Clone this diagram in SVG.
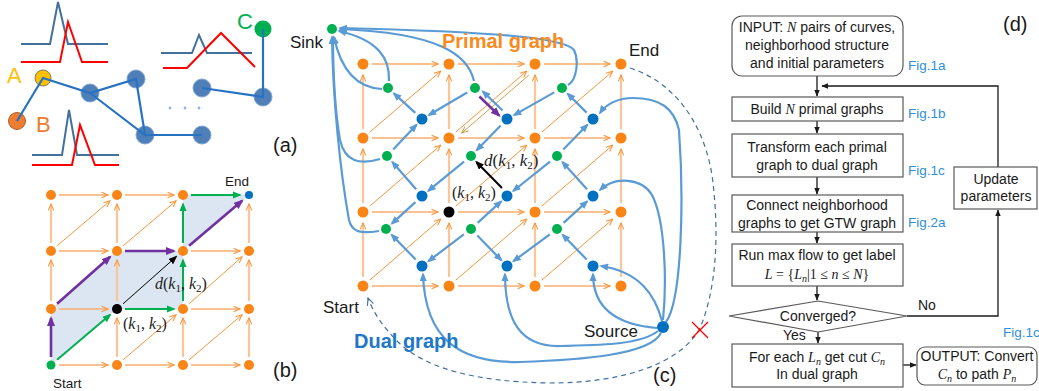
<svg xmlns="http://www.w3.org/2000/svg" width="1039" height="391" viewBox="0 0 1039 391">
<style>
text{font-family:"Liberation Sans",Arial,sans-serif;fill:#1a1a1a}
.m{font-family:"Liberation Serif","Times New Roman",serif}
.i{font-style:italic}
.lab{font-size:20px}
.ph{stroke:#F8AE6E;stroke-width:1.5;fill:none;marker-end:url(#ao)}
.pv{stroke:#FBC596;stroke-width:2.2;fill:none;marker-end:url(#ao)}
.pd{stroke:#F7963C;stroke-width:1;fill:none;marker-end:url(#ao)}
.du{stroke:#5B9BD5;stroke-width:2.2;fill:none;marker-end:url(#ab)}
.on{fill:#FA8517}
.gn{fill:#00B050}
.bn{fill:#0070C0}
.fb{fill:#fff;stroke:#595959;stroke-width:1.2}
.ft{font-size:14px;text-anchor:middle}
.fl{stroke:#1a1a1a;stroke-width:1.3;fill:none;marker-end:url(#af)}
.fig{font-size:13.5px;fill:#2F8FD8}
.ae{stroke:#2872C2;stroke-width:2.2;fill:none}
.an{fill:#4F7FB9;stroke:#7FA5D3;stroke-width:1}
.cb{stroke:#41719C;stroke-width:2;fill:none}
.cr{stroke:#FF0000;stroke-width:2;fill:none}
.gp{stroke:#00B050;stroke-width:2;fill:none;marker-end:url(#ag)}
.pp{stroke:#7030A0;stroke-width:2.6;fill:none;marker-end:url(#ap)}
</style>
<defs>
<marker id="ao" viewBox="0 0 10 10" refX="9" refY="5" markerWidth="8" markerHeight="8" markerUnits="userSpaceOnUse" orient="auto"><path d="M1,1.5 L9,5 L1,8.5" fill="none" stroke="#F7963C" stroke-width="1.3"/></marker>
<marker id="at" viewBox="0 0 10 10" refX="9" refY="5" markerWidth="8" markerHeight="8" markerUnits="userSpaceOnUse" orient="auto"><path d="M1,1.5 L9,5 L1,8.5" fill="none" stroke="#C9A24A" stroke-width="1.3"/></marker>
<marker id="ab" viewBox="0 0 10 8" refX="8" refY="4" markerWidth="9" markerHeight="7.2" markerUnits="userSpaceOnUse" orient="auto"><path d="M0,0 L10,4 L0,8 z" fill="#5B9BD5"/></marker>
<marker id="ag" viewBox="0 0 10 8" refX="8" refY="4" markerWidth="9" markerHeight="7.2" markerUnits="userSpaceOnUse" orient="auto"><path d="M0,0 L10,4 L0,8 z" fill="#00B050"/></marker>
<marker id="ap" viewBox="0 0 10 8" refX="8" refY="4" markerWidth="10" markerHeight="8" markerUnits="userSpaceOnUse" orient="auto"><path d="M0,0 L10,4 L0,8 z" fill="#7030A0"/></marker>
<marker id="ak" viewBox="0 0 10 8" refX="8" refY="4" markerWidth="9" markerHeight="7.2" markerUnits="userSpaceOnUse" orient="auto"><path d="M0,0 L10,4 L0,8 z" fill="#000"/></marker>
<marker id="ad" viewBox="0 0 10 10" refX="9" refY="5" markerWidth="9" markerHeight="9" markerUnits="userSpaceOnUse" orient="auto"><path d="M1,1.5 L9,5 L1,8.5" fill="none" stroke="#41719C" stroke-width="1.2"/></marker>
<marker id="af" viewBox="0 0 10 8" refX="9" refY="4" markerWidth="7" markerHeight="5.6" markerUnits="userSpaceOnUse" orient="auto"><path d="M0,0 L10,4 L0,8 z" fill="#1a1a1a"/></marker>
</defs>
<rect width="1039" height="391" fill="#fff"/>

<!-- ============ Panel (a) ============ -->
<g id="a-curves">
<path class="cb" d="M21,44 L50,44 L58,2 L68,44 L108,44"/>
<path class="cr" d="M21,62 L60,62 L68,22 L82,62 L108,62"/>
<path class="cb" d="M161,53 L192,53 L199,35 L207,53 L252,53"/>
<path class="cr" d="M163,68 L187,68 L221,33 L255,67"/>
<path class="cb" d="M32,155 L62,155 L69,110 L77,155 L119,155"/>
<path class="cr" d="M32,165 L72,165 L80,125 L95,165 L119,165"/>
</g>
<g id="a-nodeA"><circle cx="43" cy="78" r="8" fill="#FFC000" stroke="#7F7F60" stroke-width="1"/><text x="7" y="83" font-size="22" style="fill:#FFC000">A</text></g>
<g id="a-nodeB"><circle cx="17" cy="121" r="8.5" fill="#ED7D31" stroke="#B0602A" stroke-width="1"/><text x="36" y="132" font-size="22" style="fill:#ED7D31">B</text></g>
<g id="a-nodeC"><circle cx="263" cy="29" r="8.5" fill="#00B050"/><text x="237" y="29" font-size="22" style="fill:#00B050">C</text></g>
<g id="a-n1"><circle class="an" cx="90" cy="93" r="9"/></g>
<g id="a-n2"><circle class="an" cx="136" cy="79" r="9"/></g>
<g id="a-n3"><circle class="an" cx="145" cy="135" r="9"/></g>
<g id="a-n4"><circle class="an" cx="202" cy="135" r="9"/></g>
<g id="a-n5"><circle class="an" cx="202" cy="88" r="9"/></g>
<g id="a-n6"><circle class="an" cx="263" cy="97" r="9"/></g>
<g id="a-edges">
<path class="ae" d="M17,121 L43,78 L90,93 L136,79 L145,135 L90,93 M145,135 L202,135 M202,88 L263,97 L263,29"/>
</g>
<g id="a-dots" fill="#8EB4E3"><circle cx="170" cy="108" r="1.4"/><circle cx="185" cy="108" r="1.4"/><circle cx="199" cy="108" r="1.4"/></g>
<text class="lab" x="273" y="152">(a)</text>

<!-- ============ Panel (b) ============ -->
<g id="b-shade" fill="#DCE6F2">
<polygon points="51,365 51,309 117,251 183,251 183,309 117,309"/>
<polygon points="183,251 183,195 249,195"/>
</g>
<g id="b-edges">
<path class="ph" d="M59,195 L108,195"/><path class="ph" d="M125,195 L174,195"/><path class="gp" d="M191,195 L240,195"/>
<path class="ph" d="M59,251 L108,251"/><path class="pp" d="M125,251 L174,251"/><path class="ph" d="M191,251 L240,251"/>
<path class="ph" d="M59,309 L108,309"/><path class="gp" d="M125,309 L174,309"/><path class="ph" d="M191,309 L240,309"/>
<path class="ph" d="M59,365 L108,365"/><path class="ph" d="M125,365 L174,365"/><path class="ph" d="M191,365 L240,365"/>
<path class="pp" d="M51,357 L51,318"/><path class="pv" d="M51,301 L51,260"/><path class="pv" d="M51,243 L51,204"/>
<path class="pv" d="M117,357 L117,318"/><path class="pv" d="M117,301 L117,260"/><path class="pv" d="M117,243 L117,204"/>
<path class="pv" d="M183,357 L183,318"/><path class="gp" d="M183,301 L183,260"/><path class="gp" d="M183,243 L183,204"/>
<path class="pv" d="M249,357 L249,318"/><path class="pv" d="M249,301 L249,260"/><path class="pv" d="M249,243 L249,204"/>
<path class="gp" d="M57.1,359.8 L110.1,314.8"/>
<path class="pd" d="M123.1,359.8 L176.1,314.8"/>
<path class="pd" d="M189.1,359.8 L242.1,314.8"/>
<path class="pp" d="M57.1,303.8 L110.1,256.8"/>
<path d="M123.1,303.8 L176.1,256.8" stroke="#000" stroke-width="1" fill="none" marker-end="url(#ak)"/>
<path class="pd" d="M189.1,303.8 L242.1,256.8"/>
<path class="pd" d="M57.1,245.8 L110.1,200.8"/>
<path class="pd" d="M123.1,245.8 L176.1,200.8"/>
<path class="pp" d="M189.1,245.8 L242.1,200.8"/>
</g>
<g id="b-nodes">
<circle class="on" cx="51" cy="195" r="5"/><circle class="on" cx="117" cy="195" r="5"/><circle class="on" cx="183" cy="195" r="5"/>
<circle class="on" cx="51" cy="251" r="5"/><circle class="on" cx="117" cy="251" r="5"/><circle class="on" cx="183" cy="251" r="5"/><circle class="on" cx="249" cy="251" r="5"/>
<circle class="on" cx="51" cy="309" r="5"/><circle class="on" cx="183" cy="309" r="5"/><circle class="on" cx="249" cy="309" r="5"/>
<circle class="on" cx="117" cy="365" r="5"/><circle class="on" cx="183" cy="365" r="5"/><circle class="on" cx="249" cy="365" r="5"/>
</g>
<g id="b-end"><circle class="bn" cx="249" cy="195" r="4"/><text x="225" y="186" font-size="13.5">End</text></g>
<g id="b-start"><circle class="gn" cx="51" cy="365" r="4.5"/><text x="53" y="388" font-size="13.5">Start</text></g>
<g id="b-k"><circle cx="117" cy="309" r="5" fill="#000"/></g>
<text class="m" x="155" y="289" font-size="16"><tspan class="i">d</tspan>(<tspan class="i">k</tspan><tspan font-size="11" dy="3">1</tspan><tspan dy="-3">, </tspan><tspan class="i">k</tspan><tspan font-size="11" dy="3">2</tspan><tspan dy="-3">)</tspan></text>
<text class="m" x="123" y="329" font-size="16">(<tspan class="i">k</tspan><tspan font-size="11" dy="3">1</tspan><tspan dy="-3">, </tspan><tspan class="i">k</tspan><tspan font-size="11" dy="3">2</tspan><tspan dy="-3">)</tspan></text>
<text class="lab" x="273" y="377">(b)</text>

<!-- ============ Panel (c) ============ -->
<g id="c-primal-edges">
<path class="ph" d="M372,64 L438,64"/><path class="ph" d="M458,64 L524,64"/><path class="ph" d="M544,64 L610,64"/>
<path class="ph" d="M372,138 L438,138"/><path class="ph" d="M458,138 L524,138"/><path class="ph" d="M544,138 L610,138"/>
<path class="ph" d="M372,212 L438,212"/><path class="ph" d="M458,212 L524,212"/><path class="ph" d="M544,212 L610,212"/>
<path class="ph" d="M372,286 L438,286"/><path class="ph" d="M458,286 L524,286"/><path class="ph" d="M544,286 L610,286"/>
<path class="pv" d="M363,277 L363,223"/><path class="pv" d="M363,203 L363,149"/><path class="pv" d="M363,129 L363,75"/>
<path class="pv" d="M449,277 L449,223"/><path class="pv" d="M449,203 L449,149"/><path class="pv" d="M449,129 L449,75"/>
<path class="pv" d="M535,277 L535,223"/><path class="pv" d="M535,203 L535,149"/><path class="pv" d="M535,129 L535,75"/>
<path class="pv" d="M621,277 L621,223"/><path class="pv" d="M621,203 L621,149"/><path class="pv" d="M621,129 L621,75"/>
<path class="pd" d="M369.8,132.1 L440.7,71.2"/><path class="pd" d="M455.8,132.1 L526.7,71.2"/><path class="pd" d="M541.8,132.1 L612.7,71.2"/>
<path class="pd" d="M369.8,206.1 L440.7,145.2"/><path class="pd" d="M455.8,206.1 L526.7,145.2"/><path class="pd" d="M541.8,206.1 L612.7,145.2"/>
<path class="pd" d="M369.8,280.1 L440.7,219.2"/><path class="pd" d="M455.8,280.1 L526.7,219.2"/><path class="pd" d="M541.8,280.1 L612.7,219.2"/>
<path d="M528.8,75.2 L461.8,132.9" stroke="#C9A24A" stroke-width="1" fill="none" marker-end="url(#at)"/>
</g>
<g id="c-dual-edges">
<path class="du" d="M415.3,112.9 L393.9,93.4"/>
<path class="du" d="M467.2,92.5 L428.9,115"/>
<path class="du" d="M502.6,110.5 L482.8,91.4"/>
<path class="pp" d="M479.4,96.5 L499.2,115.6"/>
<path class="du" d="M554.2,92.4 L514,115.1"/>
<path class="du" d="M586.6,112.6 L567.7,93.7"/>
<path class="du" d="M393.2,149.5 L416.5,124.8"/>
<path class="du" d="M500.7,125.5 L476.6,150.3"/>
<path class="du" d="M563.3,149.5 L587.4,124.7"/>
<path class="du" d="M416.1,189.2 L392.3,162"/>
<path d="M502,188 L476.4,162" stroke="#000" stroke-width="2" fill="none" marker-end="url(#ak)"/>
<path class="du" d="M587,189.3 L562.4,162"/>
<path class="du" d="M464,161.7 L428.2,190.9"/>
<path class="du" d="M550,161.6 L513.2,191"/>
<path class="du" d="M415.4,202.1 L391.9,223.6"/>
<path class="du" d="M477.6,222.9 L501.1,201.4"/>
<path class="du" d="M563.6,222.9 L587.1,201.4"/>
<path class="du" d="M415.7,259.5 L391.6,234.7"/>
<path class="du" d="M477.3,235.5 L501.4,260.3"/>
<path class="du" d="M586.7,259.5 L562.6,234.7"/>
<path class="du" d="M463.8,234.4 L428.4,261.2"/>
<path class="du" d="M549.8,234.4 L513.4,261.2"/>
<!-- to sink -->
<path class="du" d="M389,81 C390,58 378,40 339,31"/>
<path class="du" d="M382,89 C360,88 342,75 334,37"/>
<path class="du" d="M474,81 C468,55 440,33 340,29"/>
<path class="du" d="M568,85 C577,80 579,60 574,50 C565,38 500,32 340,28"/>
<path class="du" d="M380,159 C360,165 345,162 340,140 C335,110 333,70 333,37"/>
<path class="du" d="M379,231 C360,234 352,232 349,220 C340,170 333,100 332,37"/>
<!-- from source -->
<path class="du" d="M666,322 C682,300 684,200 679,130 C674,108 660,98 633,98 C618,98 606,104 600,113"/>
<path class="du" d="M663,320 C667,280 665,220 652,195 C642,178 615,176 600,190"/>
<path class="du" d="M662,321 C655,295 640,272 601,266"/>
<path class="du" d="M657,328 C620,325 593,310 593,274"/>
<path class="du" d="M658,331 C640,345 600,345 560,346 C520,347 505,320 505,274"/>
<path class="du" d="M661,333 C650,355 580,360 520,362 C460,363 425,340 423,274"/>
<!-- dashed -->
<path d="M630,68 C668,80 702,115 712,175 C720,235 716,290 700,328 C680,365 620,383 550,383 C475,382 425,368 398,342 C383,327 373,312 368,298" stroke="#41719C" stroke-width="1.2" stroke-dasharray="5,4" fill="none" marker-end="url(#ad)"/>
</g>
<g id="c-cross"><path d="M692,322 L708,338 M708,322 L692,338" stroke="#FF0000" stroke-width="1.3"/></g>
<g id="c-primal-nodes">
<circle class="on" cx="363" cy="64" r="5.5"/><circle class="on" cx="449" cy="64" r="5.5"/><circle class="on" cx="535" cy="64" r="5.5"/>
<circle class="on" cx="363" cy="138" r="5.5"/><circle class="on" cx="449" cy="138" r="5.5"/><circle class="on" cx="535" cy="138" r="5.5"/><circle class="on" cx="621" cy="138" r="5.5"/>
<circle class="on" cx="363" cy="212" r="5.5"/><circle class="on" cx="535" cy="212" r="5.5"/><circle class="on" cx="621" cy="212" r="5.5"/>
<circle class="on" cx="449" cy="286" r="5.5"/><circle class="on" cx="535" cy="286" r="5.5"/><circle class="on" cx="621" cy="286" r="5.5"/>
</g>
<g id="c-end"><circle class="on" cx="621" cy="64" r="5.5"/><text x="629" y="56" font-size="17">End</text></g>
<g id="c-start"><circle class="on" cx="363" cy="286" r="5.5"/><text x="323" y="313" font-size="17">Start</text></g>
<g id="c-k"><circle cx="449" cy="212" r="5.5" fill="#000"/></g>
<g id="c-green-nodes">
<circle class="gn" cx="388" cy="88" r="5"/><circle class="gn" cx="475" cy="88" r="5"/><circle class="gn" cx="562" cy="88" r="5"/>
<circle class="gn" cx="387" cy="156" r="5"/><circle class="gn" cx="471" cy="156" r="5"/><circle class="gn" cx="557" cy="156" r="5"/>
<circle class="gn" cx="386" cy="229" r="5"/><circle class="gn" cx="471" cy="229" r="5"/><circle class="gn" cx="557" cy="229" r="5"/>
</g>
<g id="c-blue-nodes">
<circle class="bn" cx="422" cy="119" r="5.5"/><circle class="bn" cx="507" cy="119" r="5.5"/><circle class="bn" cx="593" cy="119" r="5.5"/>
<circle class="bn" cx="422" cy="196" r="5.5"/><circle class="bn" cx="507" cy="196" r="5.5"/><circle class="bn" cx="593" cy="196" r="5.5"/>
<circle class="bn" cx="422" cy="266" r="5.5"/><circle class="bn" cx="507" cy="266" r="5.5"/><circle class="bn" cx="593" cy="266" r="5.5"/>
</g>
<g id="c-sink"><circle class="gn" cx="332" cy="29" r="5"/><text x="290" y="48" font-size="17">Sink</text></g>
<g id="c-source"><circle class="bn" cx="663" cy="327" r="6"/><text x="584" y="337" font-size="17">Source</text></g>
<text x="442" y="48" font-size="20" font-weight="bold" style="fill:#F98B1E">Primal graph</text>
<text x="354" y="348" font-size="20" font-weight="bold" style="fill:#2177C7">Dual graph</text>
<text class="m" x="484" y="166" font-size="17"><tspan class="i">d</tspan>(<tspan class="i">k</tspan><tspan font-size="11" dy="3">1</tspan><tspan dy="-3">, </tspan><tspan class="i">k</tspan><tspan font-size="11" dy="3">2</tspan><tspan dy="-3">)</tspan></text>
<text class="m" x="452" y="198" font-size="16">(<tspan class="i">k</tspan><tspan font-size="11" dy="3">1</tspan><tspan dy="-3">, </tspan><tspan class="i">k</tspan><tspan font-size="11" dy="3">2</tspan><tspan dy="-3">)</tspan></text>
<text class="lab" x="653" y="382">(c)</text>

<!-- ============ Panel (d) ============ -->
<g id="d-connectors">
<path class="fl" d="M817,76 L817,96"/>
<path class="fl" d="M817,121 L817,133"/>
<path class="fl" d="M817,177 L817,194"/>
<path class="fl" d="M817,232 L817,243"/>
<path class="fl" d="M817,286 L817,300"/>
<path class="fl" d="M818,332 L818,343"/>
<path class="fl" d="M903,365 L916,365"/>
<path class="fl" d="M998,167 L998,86 L822,86"/>
<path class="fl" d="M907,316 L998,316 L998,210"/>
<text x="918" y="310" font-size="14">No</text>
<text x="783" y="340" font-size="14">Yes</text>
</g>
<g id="d-input">
<rect class="fb" x="732" y="16" width="171" height="60" rx="10"/>
<text class="ft" x="817" y="32">INPUT: <tspan class="m i">N</tspan> pairs of curves,</text>
<text class="ft" x="817" y="50">neighborhood structure</text>
<text class="ft" x="817" y="68">and initial parameters</text>
<text class="fig" x="908" y="70">Fig.1a</text>
</g>
<g id="d-build">
<rect class="fb" x="732" y="97" width="171" height="24"/>
<text class="ft" x="817" y="114">Build <tspan class="m i">N</tspan> primal graphs</text>
<text class="fig" x="908" y="118">Fig.1b</text>
</g>
<g id="d-transform">
<rect class="fb" x="732" y="134" width="171" height="43"/>
<text class="ft" x="817" y="152">Transform each primal</text>
<text class="ft" x="817" y="170">graph to dual graph</text>
<text class="fig" x="908" y="175">Fig.1c</text>
</g>
<g id="d-connect">
<rect class="fb" x="732" y="195" width="171" height="37"/>
<text class="ft" x="817" y="210">Connect neighborhood</text>
<text class="ft" x="817" y="228">graphs to get GTW graph</text>
<text class="fig" x="908" y="227">Fig.2a</text>
</g>
<g id="d-run">
<rect class="fb" x="732" y="244" width="171" height="42"/>
<text class="ft" x="817" y="260">Run max flow to get label</text>
<text class="ft m" x="817" y="279"><tspan class="i">L</tspan> = {<tspan class="i">L</tspan><tspan class="i" font-size="10" dy="3">n</tspan><tspan dy="-3">|1 ≤ </tspan><tspan class="i">n</tspan> ≤ <tspan class="i">N</tspan>}</text>
</g>
<g id="d-converged">
<polygon class="fb" points="729,316 818,301 907,316 818,332"/>
<text class="ft" x="818" y="321">Converged?</text>
</g>
<g id="d-update">
<rect class="fb" x="954" y="167" width="83" height="42"/>
<text class="ft" x="996" y="184">Update</text>
<text class="ft" x="996" y="201">parameters</text>
</g>
<g id="d-cut">
<rect class="fb" x="732" y="344" width="171" height="43"/>
<text class="ft" x="817" y="362">For each <tspan class="m i">L</tspan><tspan class="m i" font-size="10" dy="3">n</tspan><tspan dy="-3"> get cut </tspan><tspan class="m i">C</tspan><tspan class="m i" font-size="10" dy="3">n</tspan></text>
<text class="ft" x="817" y="379">In dual graph</text>
</g>
<g id="d-output">
<rect class="fb" x="917" y="347" width="120" height="38" rx="8"/>
<text class="ft" x="977" y="361">OUTPUT: Convert</text>
<text class="ft" x="977" y="379"><tspan class="m i">C</tspan><tspan class="m i" font-size="10" dy="3">n</tspan><tspan dy="-3"> to path </tspan><tspan class="m i">P</tspan><tspan class="m i" font-size="10" dy="3">n</tspan></text>
<text class="fig" x="1003" y="337">Fig.1c</text>
</g>
<text class="lab" x="1003" y="31">(d)</text>
</svg>
